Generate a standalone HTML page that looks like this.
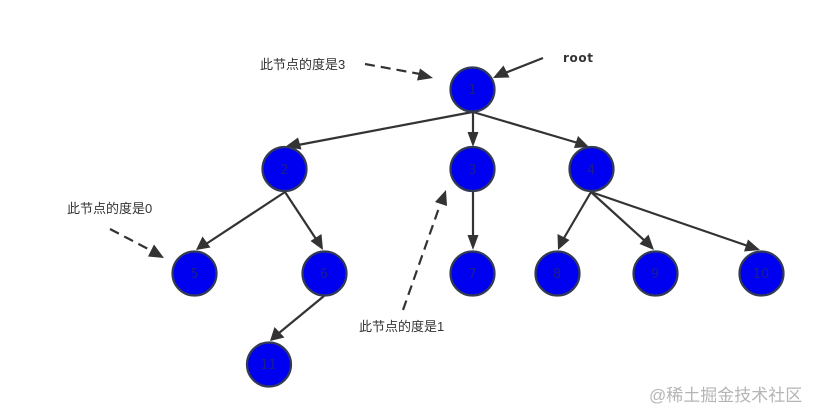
<!DOCTYPE html>
<html lang="zh">
<head>
<meta charset="utf-8">
<style>
html,body{margin:0;padding:0;background:#fff;width:816px;height:419px;overflow:hidden}
svg{display:block}
.n{fill:#0000f0;stroke:#333a55;stroke-width:2.2}
.t{font:13px "DejaVu Sans","Liberation Sans",sans-serif;fill:#1c1c90;text-anchor:middle}
.e{stroke:#333;stroke-width:2.2;fill:none}
.d{stroke:#333;stroke-width:2.2;fill:none;stroke-dasharray:10 6}
.a{fill:#333}
.l{font:13px "Liberation Sans","Noto Sans CJK SC",sans-serif;fill:#333}
</style>
</head>
<body>
<svg width="816" height="419" viewBox="0 0 816 419" xmlns="http://www.w3.org/2000/svg">
<!-- edges -->
<path class="e" d="M472.5 112 L298 145"/>
<path class="a" d="M285 147 L298 137.5 L301.5 149.5 Z"/>
<path class="e" d="M473 112 L473 136"/>
<path class="a" d="M473 147 L467.5 132 L478.5 132 Z"/>
<path class="e" d="M473 112 L578 143"/>
<path class="a" d="M589 147 L574 148 L578 136 Z"/>
<path class="e" d="M285 192 L206 244"/>
<path class="a" d="M196 250 L202.5 236.5 L210.5 247.5 Z"/>
<path class="e" d="M285 192 L316 239"/>
<path class="a" d="M323 250 L310.5 241 L321.5 234 Z"/>
<path class="e" d="M473 192 L473 238"/>
<path class="a" d="M473 250 L467.5 235 L478.5 235 Z"/>
<path class="e" d="M591 192 L564 238"/>
<path class="a" d="M558 250 L557.5 234 L569.5 240 Z"/>
<path class="e" d="M591 192 L645 241"/>
<path class="a" d="M654 250 L639.5 244 L648.5 234.5 Z"/>
<path class="e" d="M591 192 L748 246"/>
<path class="a" d="M760 250 L744 251.5 L748 239.5 Z"/>
<path class="e" d="M324 296 L279 333"/>
<path class="a" d="M270 341 L274.5 327 L284.5 337.5 Z"/>
<path class="e" d="M543 58 L505 73"/>
<path class="a" d="M493 78 L503.5 65.5 L509.5 77.5 Z"/>
<!-- dashed -->
<path class="d" d="M365 64 L420 74"/>
<path class="a" d="M433 78 L417 80.5 L420 68.5 Z"/>
<path class="d" d="M110 229 L150 250"/>
<path class="a" d="M164 258 L148 256.5 L154 244.5 Z"/>
<path class="d" d="M403 310 L440 205"/>
<path class="a" d="M446 190 L447 206 L435 202 Z"/>
<!-- nodes -->
<circle class="n" cx="472.5" cy="89.5" r="22"/><text class="t" x="472.5" y="94">1</text>
<circle class="n" cx="284.5" cy="169" r="22"/><text class="t" x="284.5" y="174">2</text>
<circle class="n" cx="472.5" cy="169" r="22"/><text class="t" x="472.5" y="174">3</text>
<circle class="n" cx="591.5" cy="169" r="22"/><text class="t" x="591" y="174">4</text>
<circle class="n" cx="194.5" cy="273.5" r="22"/><text class="t" x="194.5" y="278">5</text>
<circle class="n" cx="324.5" cy="273.5" r="22"/><text class="t" x="324" y="278">6</text>
<circle class="n" cx="472.5" cy="273.5" r="22"/><text class="t" x="472.5" y="278">7</text>
<circle class="n" cx="557.5" cy="273.5" r="22"/><text class="t" x="557" y="278">8</text>
<circle class="n" cx="655.5" cy="273.5" r="22"/><text class="t" x="655" y="278">9</text>
<circle class="n" cx="761.5" cy="273.5" r="22"/><text class="t" x="761" y="278">10</text>
<circle class="n" cx="269" cy="364.5" r="22"/><text class="t" x="268.5" y="369">11</text>
<!-- labels -->
<text class="l" x="260" y="69">此节点的度是3</text>
<text class="l" x="67" y="213">此节点的度是0</text>
<text class="l" x="359" y="331">此节点的度是1</text>
<text x="563" y="62" style="font:bold 12px 'DejaVu Sans',sans-serif;fill:#333;letter-spacing:.6px">root</text>
<text x="649" y="401" style="font:17px 'Liberation Sans','Noto Sans CJK SC',sans-serif;fill:#b5b5b5">@稀土掘金技术社区</text>
</svg>
</body>
</html>
